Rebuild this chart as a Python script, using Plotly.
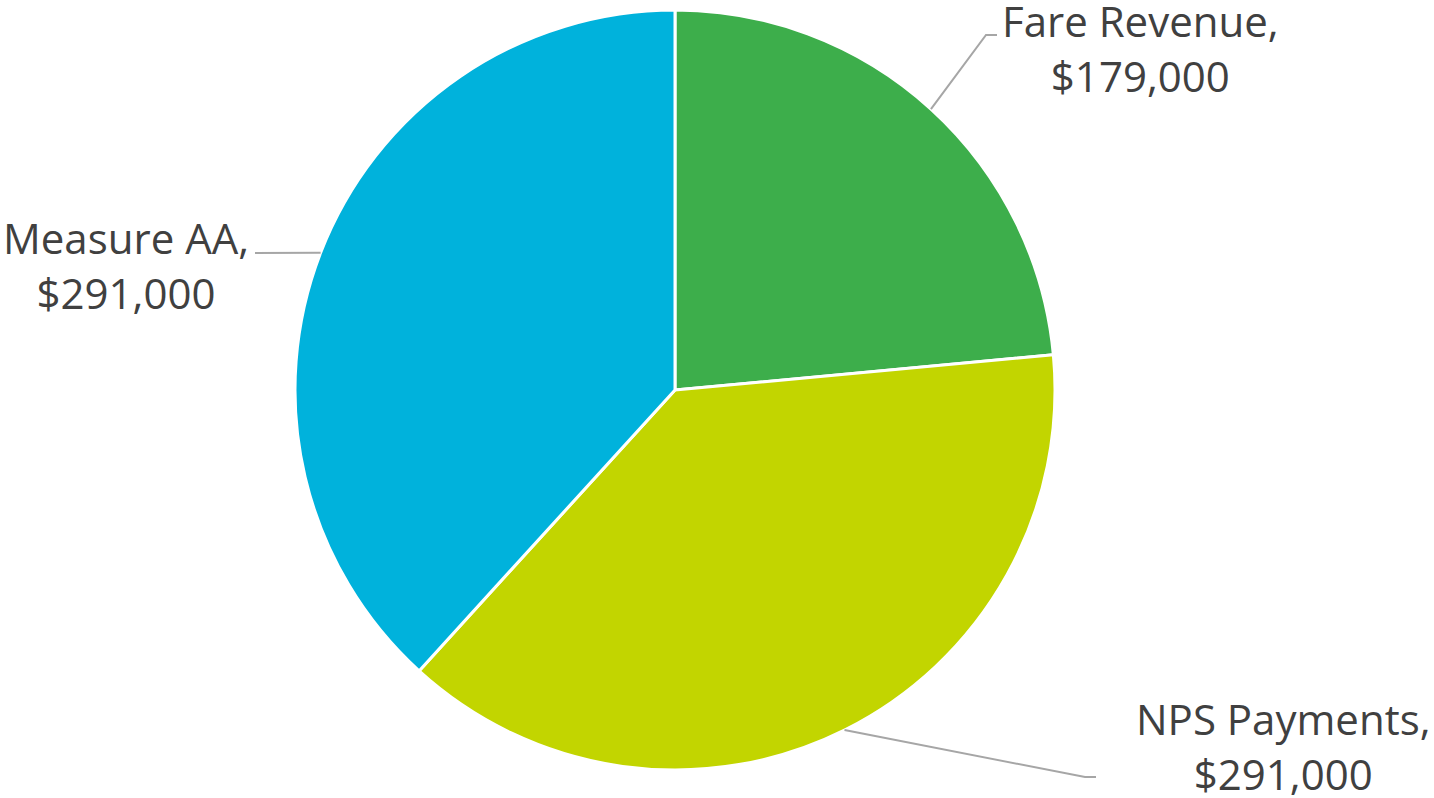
import math
import plotly.graph_objects as go

# ---- data ----
labels = ["Fare Revenue", "NPS Payments", "Measure AA"]
values = [179000, 291000, 291000]
colors = ["#3DAE4B", "#C2D500", "#00B2DC"]

W, H = 1434, 798
# pie geometry (pixels)
CX, CY, R = 675, 390, 380

# label placement (pixel centre of text block) and leader elbow points
label_pos = {
    "Fare Revenue": (1140, 48),
    "NPS Payments": (1283, 746),
    "Measure AA": (126, 265),
}
elbows = {
    "Fare Revenue": [(986, 35), (997, 35)],
    "NPS Payments": [(1085, 777), (1096, 777)],
    "Measure AA": [(255, 253)],
}

def px(x):
    return x / W

def py(y):
    return 1 - y / H

fig = go.Figure(go.Pie(
    labels=labels,
    values=values,
    sort=False,
    direction="clockwise",
    rotation=0,
    marker=dict(colors=colors, line=dict(color="white", width=3)),
    textinfo="none",
    hoverinfo="label+value",
    showlegend=False,
    domain=dict(x=[px(CX - R), px(CX + R)], y=[py(CY + R), py(CY - R)]),
))

total = sum(values)
cum = 0
shapes = []
annotations = []
for lab, val in zip(labels, values):
    mid = (cum + val / 2) / total * 2 * math.pi
    cum += val
    sx = CX + R * math.sin(mid)
    sy = CY - R * math.cos(mid)
    pts = [(sx, sy)] + elbows[lab]
    path = "M " + " L ".join(f"{px(x)},{py(y)}" for x, y in pts)
    shapes.append(dict(type="path", xref="paper", yref="paper", path=path,
                       line=dict(color="#A6A6A6", width=2)))
    lx, ly = label_pos[lab]
    annotations.append(dict(
        text=f"{lab},<br>${val:,.0f}",
        x=px(lx), y=py(ly), xref="paper", yref="paper",
        xanchor="center", yanchor="middle", showarrow=False,
        align="center",
        font=dict(family="Open Sans", size=42, color="#404040"),
    ))

fig.update_layout(
    width=W, height=H,
    margin=dict(l=0, r=0, t=0, b=0),
    paper_bgcolor="white",
    plot_bgcolor="white",
    shapes=shapes,
    annotations=annotations,
)

fig.write_html(
    "out.html",
    config={"displayModeBar": False},
    post_script="document.body.style.margin='0px';document.body.style.overflow='hidden';",
)
